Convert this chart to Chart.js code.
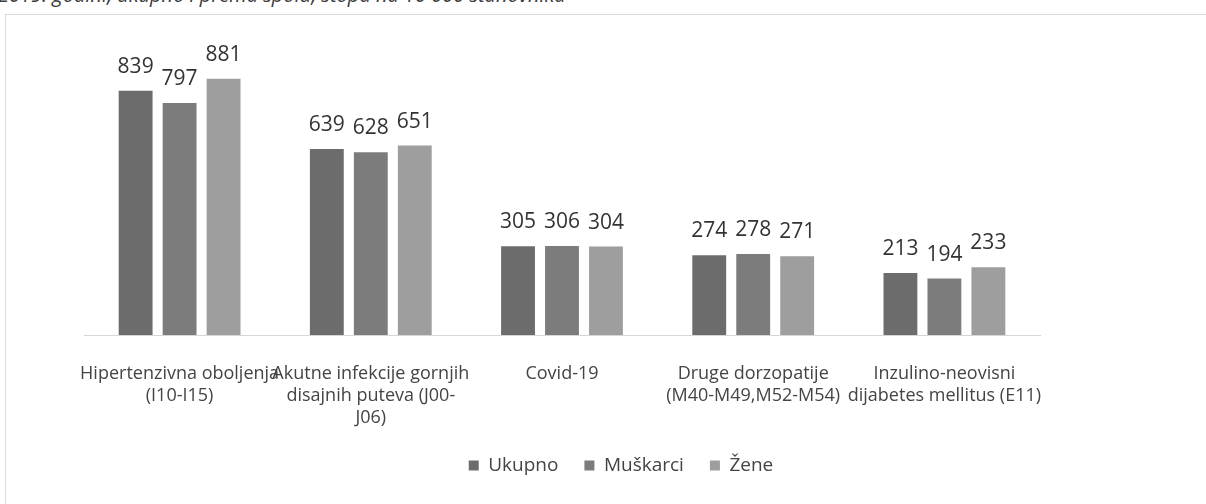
<!DOCTYPE html>
<html lang="hr">
  <head>
    <meta charset="utf-8">
    <title>Vodeće dijagnoze</title>
    <style>
      html, body { margin: 0; padding: 0; background: #fff; }
      body { width: 1206px; height: 504px; position: relative; overflow: hidden; }
      #naslov {
        position: absolute; left: -2px; top: -15px;
        font: italic 20px "Open Sans", sans-serif; line-height: 20px;
        color: #3a3a3a; white-space: nowrap;
      }
      #okvir {
        position: absolute; left: 5px; top: 14px; width: 1230px; height: 520px;
        border: 1px solid #dadada;
      }
      #graf { position: absolute; left: 0; top: 0; }
    </style>
  </head>
  <body>
    <div id="naslov">2019. godini, ukupno i prema spolu, stopa na 10 000 stanovnika</div>
    <div id="okvir"></div>
    <canvas id="graf" width="1206" height="504"></canvas>

    <script src="https://cdn.jsdelivr.net/npm/chart.js@4/dist/chart.umd.min.js"></script>
    <script>
    // podaci procitani sa slike
    const kategorije = [
      ['Hipertenzivna oboljenja', '(I10-I15)'],
      ['Akutne infekcije gornjih', 'disajnih puteva (J00-', 'J06)'],
      ['Covid-19'],
      ['Druge dorzopatije', '(M40-M49,M52-M54)'],
      ['Inzulino-neovisni', 'dijabetes mellitus (E11)']
    ];
    const ukupno   = [839, 639, 305, 274, 213];
    const muskarci = [797, 628, 306, 278, 194];
    const zene     = [881, 651, 304, 271, 233];

    const font = '"Open Sans", sans-serif';

    // brojevi iznad stubaca
    const vrijednosti = {
      id: 'vrijednosti',
      afterDatasetsDraw(chart) {
        const ctx = chart.ctx;
        ctx.save();
        ctx.font = '21px ' + font;
        ctx.fillStyle = '#333';
        ctx.textAlign = 'center';
        ctx.textBaseline = 'alphabetic';
        chart.data.datasets.forEach((ds, i) => {
          chart.getDatasetMeta(i).data.forEach((bar, j) => {
            ctx.fillText(ds.data[j], bar.x, bar.y - 18);
          });
        });
        ctx.restore();
      }
    };

    new Chart(document.getElementById('graf'), {
      type: 'bar',
      data: {
        labels: kategorije,
        datasets: [
          { label: 'Ukupno', data: ukupno, backgroundColor: '#6c6c6c' },
          { label: 'Muškarci', data: muskarci, backgroundColor: '#7c7c7c' },
          { label: 'Žene', data: zene, backgroundColor: '#9e9e9e' }
        ]
      },
      options: {
        responsive: false,
        animation: false,
        layout: { padding: { left: 84, right: 48, top: 44, bottom: 19 } },
        datasets: { bar: { categoryPercentage: 0.69, barPercentage: 0.77 } },
        scales: {
          x: {
            grid: { display: false },
            border: { display: true, color: '#d6d6d6', width: 1 },
            ticks: {
              color: '#444', font: { family: font, size: 18, lineHeight: 1.22 },
              padding: 20, maxRotation: 0, autoSkip: false
            },
            afterFit(s) { s.height = 95; }
          },
          y: { display: false, min: 0, max: 1000 },
          prazno: {
            position: 'right', display: true,
            grid: { display: false }, border: { display: false },
            ticks: { display: false },
            afterFit(s) { s.width = 118; }
          }
        },
        plugins: {
          legend: {
            position: 'bottom',
            labels: {
              color: '#444', font: { family: font, size: 19 },
              boxWidth: 10, boxHeight: 10, padding: 26
            }
          },
          tooltip: { enabled: false }
        }
      },
      plugins: [vrijednosti]
    });
    </script>
  </body>
</html>
